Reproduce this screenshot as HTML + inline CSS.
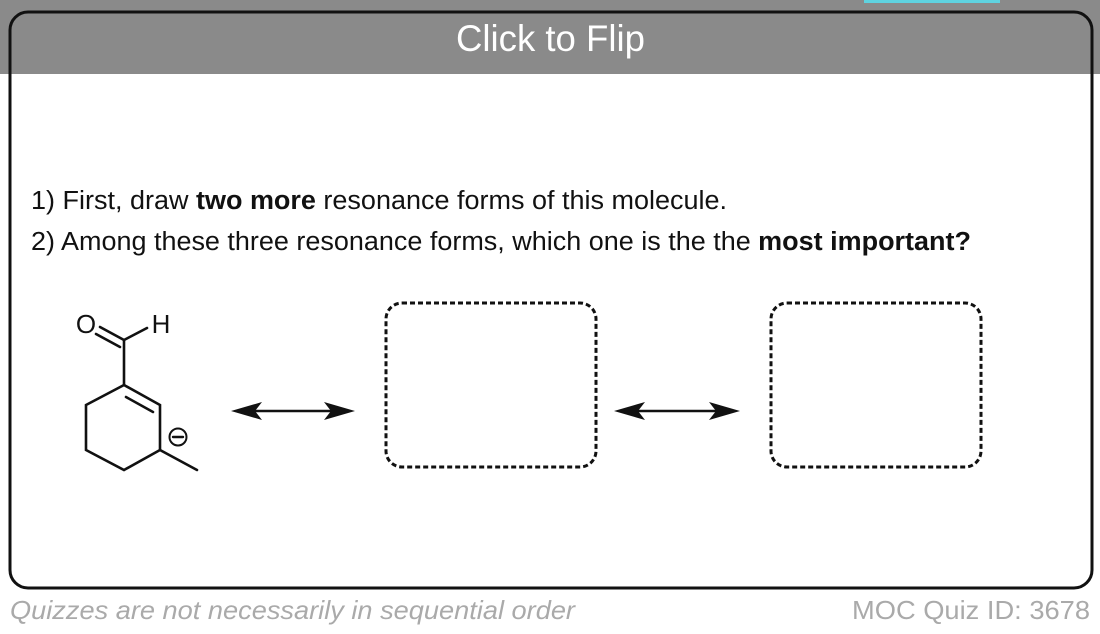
<!DOCTYPE html>
<html><head><meta charset="utf-8"><style>
html,body{margin:0;padding:0;width:1100px;height:634px;overflow:hidden;background:#fff}
svg{display:block}
text{font-family:"Liberation Sans",Arial,sans-serif}
</style></head><body>
<svg width="1100" height="634" viewBox="0 0 1100 634" xmlns="http://www.w3.org/2000/svg">
<rect x="0" y="0" width="1100" height="74" fill="#8a8a8a"/>
<rect x="864" y="0" width="136" height="3" fill="#5fd3e0"/>
<rect x="11.5" y="74" width="1079" height="512" fill="#fff"/>
<rect x="10" y="12" width="1082" height="576" rx="18" fill="none" stroke="#111" stroke-width="3"/>
<text x="456" y="51" fill="#fff" font-size="37" textLength="189" lengthAdjust="spacingAndGlyphs">Click to Flip</text>
<text x="31" y="209" font-size="25.5" fill="#111" textLength="696" lengthAdjust="spacingAndGlyphs">1) First, draw <tspan font-weight="bold">two more</tspan> resonance forms of this molecule.</text>
<text x="31" y="250" font-size="25.5" fill="#111" textLength="940" lengthAdjust="spacingAndGlyphs">2) Among these three resonance forms, which one is the the <tspan font-weight="bold">most important?</tspan></text>
<g stroke="#111" stroke-width="2.6" fill="none" stroke-linecap="round">
<polyline points="124,385 160,405 160,450 124,470 86,450 86,405 124,385"/>
<line x1="126" y1="397" x2="153" y2="412"/>
<line x1="160" y1="450" x2="197" y2="470"/>
<line x1="124" y1="385" x2="124" y2="340"/>
<line x1="124" y1="340" x2="147" y2="328"/>
<line x1="124" y1="340" x2="100" y2="327"/>
<line x1="120" y1="347" x2="96" y2="334"/>
<circle cx="178" cy="437" r="8.5" stroke-width="2"/>
<line x1="173" y1="437" x2="183" y2="437" stroke-width="2.4"/>
</g>
<text x="86" y="333" font-size="26" text-anchor="middle" fill="#111">O</text>
<text x="161" y="333" font-size="26" text-anchor="middle" fill="#111">H</text>
<g stroke="#111" stroke-width="2.6">
<line x1="240" y1="411" x2="345" y2="411"/>
<line x1="624" y1="411" x2="730" y2="411"/>
</g>
<g fill="#111">
<polygon points="231,411 262,402 255,411 262,420"/>
<polygon points="355,411 324,402 331,411 324,420"/>
<polygon points="614,411 645,402 638,411 645,420"/>
<polygon points="740,411 709,402 716,411 709,420"/>
</g>
<g fill="none" stroke="#111" stroke-width="3" stroke-dasharray="5,3">
<rect x="386" y="303" width="210" height="164" rx="16"/>
<rect x="771" y="303" width="210" height="164" rx="16"/>
</g>
<text x="10" y="619" font-size="26" font-style="italic" fill="#aaa" textLength="565" lengthAdjust="spacingAndGlyphs">Quizzes are not necessarily in sequential order</text>
<text x="852" y="619" font-size="26" fill="#aaa" textLength="238" lengthAdjust="spacingAndGlyphs">MOC Quiz ID: 3678</text>
</svg>
</body></html>
